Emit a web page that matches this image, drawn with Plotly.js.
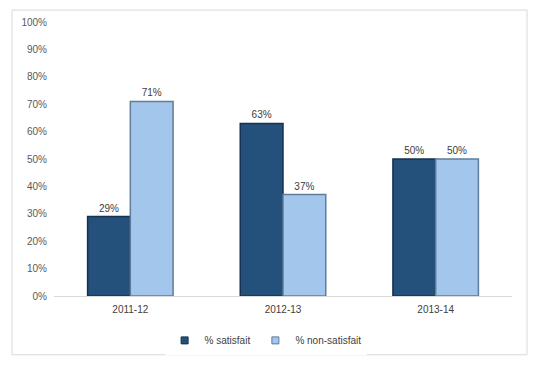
<!DOCTYPE html>
<html>
<head>
<meta charset="utf-8">
<script src="https://cdn.plot.ly/plotly-3.0.1.min.js"></script>
<style>html,body{margin:0;padding:0;background:#fff;}#chart{width:536px;height:366px;}</style>
</head>
<body>
<div id="chart"></div>
<script>
const categories = ['2011-12', '2012-13', '2013-14'];
const satisfait = [29, 63, 50];
const nonSatisfait = [71, 37, 50];
const seriesNames = ['% satisfait', '% non-satisfait'];
const yTickVals = [0, 10, 20, 30, 40, 50, 60, 70, 80, 90, 100];
const yTickText = yTickVals.map(v => v + '%');

const fontFam = '"Liberation Sans", Arial, sans-serif';
const colors = ['#24507c', '#a3c6ec'];
const outlines = ['#16314f', '#5f7c9c'];
const traces = [
  {
    type: 'bar', name: seriesNames[0], x: categories, y: satisfait, showlegend: false,
    marker: {color: colors[0], line: {color: outlines[0], width: 1.5}},
    text: satisfait.map(v => v + '%'), textposition: 'outside',
    textfont: {family: fontFam, size: 10, color: '#404040'},
    cliponaxis: false, hoverinfo: 'none'
  },
  {
    type: 'bar', name: seriesNames[1], x: categories, y: nonSatisfait, showlegend: false,
    marker: {color: colors[1], line: {color: outlines[1], width: 1.5}},
    text: nonSatisfait.map(v => v + '%'), textposition: 'outside',
    textfont: {family: fontFam, size: 10, color: '#404040'},
    cliponaxis: false, hoverinfo: 'none'
  },
  {
    type: 'scatter', mode: 'markers', name: seriesNames[0], x: [categories[0]], y: [null],
    marker: {symbol: 'square', size: 7, color: colors[0], line: {color: outlines[0], width: 1}},
    hoverinfo: 'none'
  },
  {
    type: 'scatter', mode: 'markers', name: seriesNames[1], x: [categories[0]], y: [null],
    marker: {symbol: 'square', size: 7, color: colors[1], line: {color: outlines[1], width: 1}},
    hoverinfo: 'none'
  }
];

const layout = {
  width: 536, height: 366,
  margin: {l: 54, r: 24, t: 22, b: 69},
  paper_bgcolor: '#fff', plot_bgcolor: '#fff',
  font: {family: fontFam, size: 10, color: '#595959'},
  barmode: 'group', bargap: 0.44, bargroupgap: 0,
  showlegend: true,
  legend: {orientation: 'h', x: 0.462, xanchor: 'center', y: -0.105, yanchor: 'top',
           font: {family: fontFam, size: 10, color: '#404040'}, itemwidth: 30,
           traceorder: 'normal'},
  xaxis: {type: 'category', showgrid: false, showline: true, linecolor: '#d9d9d9', linewidth: 1,
          ticks: 'outside', ticklen: 4, tickcolor: 'rgba(0,0,0,0)',
          tickfont: {family: fontFam, size: 10, color: '#404040'}, zeroline: false},
  yaxis: {range: [0, 100], tickmode: 'array', tickvals: yTickVals, ticktext: yTickText, showgrid: false,
          showline: false, zeroline: false, ticks: 'outside', ticklen: 4,
          tickcolor: 'rgba(0,0,0,0)', tickfont: {family: fontFam, size: 10, color: '#595959'}},
  shapes: [{type: 'rect', xref: 'paper', yref: 'paper',
            x0: -0.0917, x1: 1.0328, y0: -0.2145, y1: 1.0436,
            line: {color: '#d9d9d9', width: 1}, fillcolor: 'rgba(0,0,0,0)', layer: 'below'}]
};

Plotly.newPlot('chart', traces, layout, {staticPlot: true, displayModeBar: false});
</script>
</body>
</html>
